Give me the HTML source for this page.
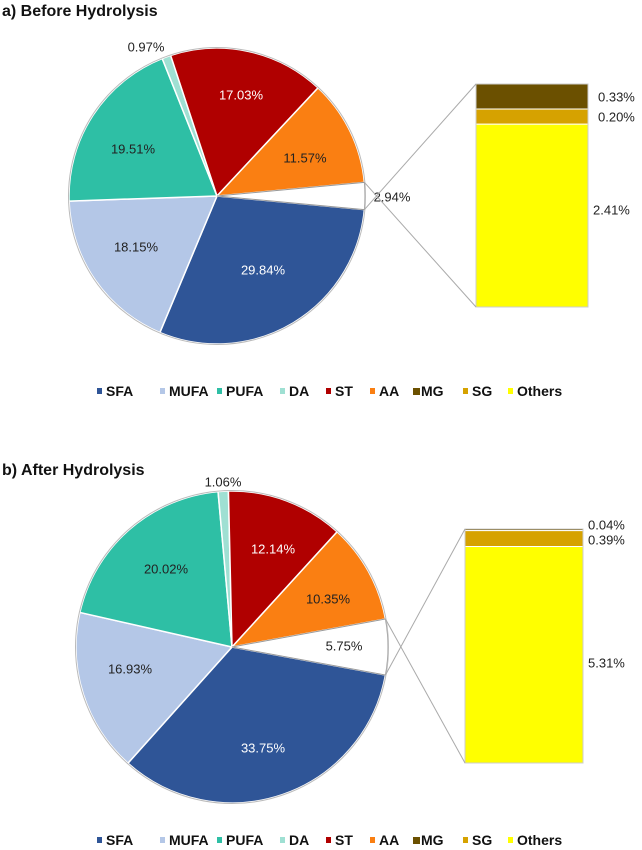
<!DOCTYPE html>
<html><head><meta charset="utf-8"><style>
html,body{margin:0;padding:0;background:#fff;}
svg{display:block;font-family:"Liberation Sans",Arial,sans-serif;}
</style></head><body>
<svg id="chart" width="642" height="850" viewBox="0 0 642 850">
<text x="2" y="16" font-size="16" font-weight="bold" fill="#111">a) Before Hydrolysis</text>
<text x="2" y="475" font-size="16" font-weight="bold" fill="#111">b) After Hydrolysis</text>
</svg>
<script>
const categories = ["SFA","MUFA","PUFA","DA","ST","AA","Others"];
const valuesA = [29.84,18.15,19.51,0.97,17.03,11.57,2.94];
const valuesB = [33.75,16.93,20.02,1.06,12.14,10.35,5.75];
const subCategories = ["MG","SG","Others"];
const subValuesA = [0.33,0.20,2.41];
const subValuesB = [0.04,0.39,5.31];
const legendLabels = ["SFA","MUFA","PUFA","DA","ST","AA","MG","SG","Others"];

const colors = {SFA:"#2F5597",MUFA:"#B4C7E7",PUFA:"#2EBFA5",DA:"#9FE0D3",ST:"#B00000",AA:"#FA7F12",MG:"#6B5000",SG:"#D6A200",Others:"#FFFF00"};
const whiteText = {SFA:true,ST:true};
const NS="http://www.w3.org/2000/svg";
const svg=document.getElementById('chart');
function mk(tag,attrs,parent){const e=document.createElementNS(NS,tag);for(const k in attrs)e.setAttribute(k,attrs[k]);(parent||svg).appendChild(e);return e;}

function drawPanel(cfg){
  const {vals,sub,cx,cy,r,bar,labels,subLabels,id}=cfg;
  const total=vals.reduce((a,b)=>a+b,0);
  const g=mk('g',{});
  
  
  const othersFrac=vals[vals.length-1]/total;
  let ang=othersFrac*Math.PI;
  let othersEdges=null;
  vals.forEach((v,i)=>{
    const a0=ang, a1=ang+v/total*2*Math.PI; ang=a1;
    const x0=cx+r*Math.cos(a0), y0=cy+r*Math.sin(a0);
    const x1=cx+r*Math.cos(a1), y1=cy+r*Math.sin(a1);
    const large=(a1-a0)>Math.PI?1:0;
    const name=categories[i];
    const p=mk('path',{d:`M${cx},${cy} L${x0},${y0} A${r},${r} 0 ${large} 1 ${x1},${y1} Z`,
      fill:name==="Others"?"#fff":colors[name],stroke:name==="Others"?"#999":"#fff","stroke-width":name==="Others"?1:1.5},g);
    
    
    if(name==="Others") othersEdges=[[x1,y1],[x0,y0]];
    const L=labels[i];
    const t=mk('text',{x:L[0],y:L[1]+4.5,'font-size':13,'text-anchor':'middle',fill:whiteText[name]?"#fff":"#222"},g);
    t.textContent=v.toFixed(2)+"%";
    
    
  });
  // outline
  mk('circle',{cx,cy,r:r+0.5,fill:'none',stroke:'#bbb','stroke-width':1},g);
  // bar
  const subTotal=sub.reduce((a,b)=>a+b,0);
  const bg=mk('g',{});
  
  
  const scale=(bar.y1-bar.y0)/subTotal;
  let y=bar.y0;
  sub.forEach((v,i)=>{
    const h=v*scale;const name=subCategories[i];
    const rc=mk('rect',{x:bar.x0,y:y,width:bar.x1-bar.x0,height:Math.max(h,1),fill:colors[name],stroke:'#fff','stroke-width':1},bg);
    
    
    y+=h;
    const L=subLabels[i];
    const t=mk('text',{x:L[0],y:L[1]+4.5,'font-size':13,fill:'#222'},bg);
    t.textContent=v.toFixed(2)+"%";
    
    
  });
  mk('rect',{x:bar.x0,y:bar.y0,width:bar.x1-bar.x0,height:bar.y1-bar.y0,fill:'none',stroke:'#ccc','stroke-width':1},bg);
  const l1=mk('line',{x1:othersEdges[0][0],y1:othersEdges[0][1],x2:bar.x0,y2:bar.y0,stroke:'#aaa','stroke-width':1});
  
  
  const l2=mk('line',{x1:othersEdges[1][0],y1:othersEdges[1][1],x2:bar.x0,y2:bar.y1,stroke:'#aaa','stroke-width':1});
  
  
}

drawPanel({id:'a',vals:valuesA,sub:subValuesA,cx:217,cy:196,r:148,
  bar:{x0:476,x1:588,y0:84,y1:307},
  labels:[[263,270],[136,247],[133,149],[146,47],[241,95],[305,158],[392,197]],
  subLabels:[[598,97],[598,117],[593,210]]});
drawPanel({id:'b',vals:valuesB,sub:subValuesB,cx:232,cy:647,r:156,
  bar:{x0:465,x1:583,y0:529,y1:763},
  labels:[[263,748],[130,669],[166,569],[223,482],[273,549],[328,599],[344,646]],
  subLabels:[[588,525],[588,540],[588,663]]});

const legX=[97,160,217,280,326,370,413,463,508];
[391,840].forEach((ly,k)=>{
  const lg=mk('g',{});
  
  
  legendLabels.forEach((n,i)=>{
    const s=mk('rect',{x:legX[i],y:ly-3,width:n==="MG"?7:5,height:n==="MG"?7:6,fill:colors[n]},lg);
    
    
    const t=mk('text',{x:legX[i]+(n==="MG"?8:9),y:ly+5,'font-size':14,'font-weight':'bold',fill:'#111'},lg);
    t.textContent=n;
    
    
  });
});
</script>
</body></html>
